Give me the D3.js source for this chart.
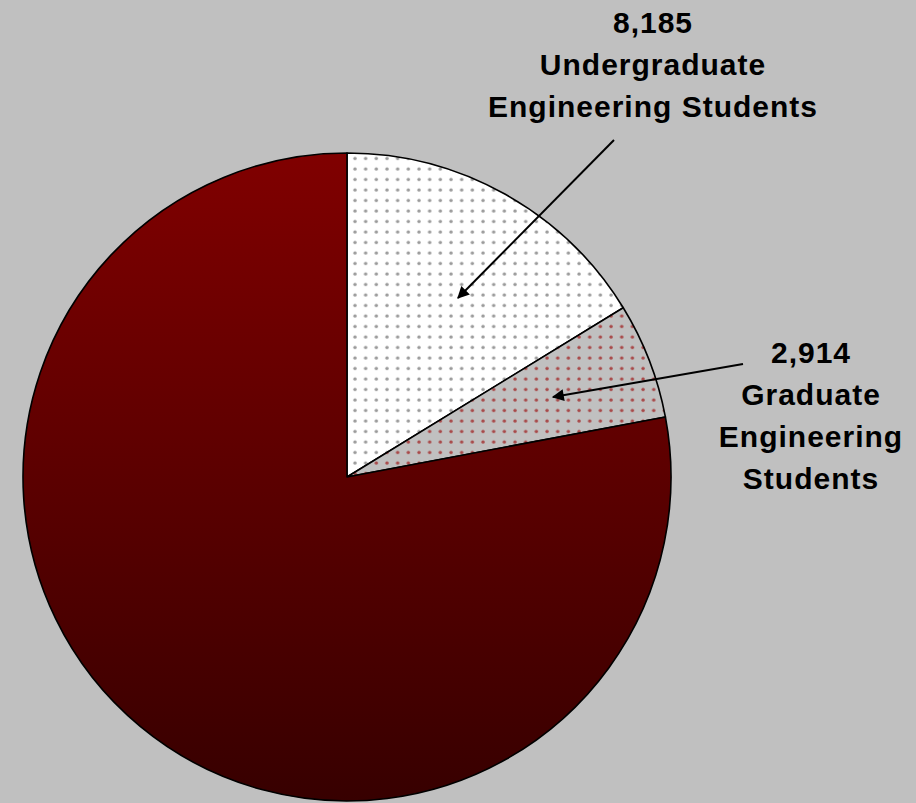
<!DOCTYPE html>
<html>
<head>
<meta charset="utf-8">
<script src="https://cdn.jsdelivr.net/npm/d3@7"></script>
<style>
  html, body { margin: 0; padding: 0; background: #c0c0c0; }
  svg { display: block; }
  text { font-family: Arial, "Liberation Sans", sans-serif; font-weight: bold; fill: #000; }
</style>
</head>
<body>
<svg id="chart" width="916" height="803"></svg>
<script>
// slice order goes clockwise from 12 o'clock
const categories = ["Undergraduate Engineering Students", "Graduate Engineering Students", "Other Students"];
const values = [8185, 2914, 39270];
const labelLines = [
  ["8,185", "Undergraduate", "Engineering Students"],
  ["2,914", "Graduate", "Engineering", "Students"],
  null
];

const width = 916, height = 803;
const cx = 347, cy = 477, radius = 324;

const svg = d3.select("#chart");
const defs = svg.append("defs");

// dotted fills
function dotPattern(id, bg, dot) {
  let p = defs.append("pattern")
    .attr("id", id)
    .attr("patternUnits", "userSpaceOnUse")
    .attr("width", 10.67)
    .attr("height", 10.5)
    .attr("x", 3)
    .attr("y", 2);
  p.append("rect").attr("width", 10.67).attr("height", 10.5).attr("fill", bg);
  p.append("circle").attr("cx", 5).attr("cy", 5).attr("r", 1.7).attr("fill", dot);
}
dotPattern("dotsWhite", "#ffffff", "#9a9a9a");
dotPattern("dotsRed", "#c0c0c0", "#a84848");

// gradient coords are in the pie group's local space (centre at 0,0)
let grad = defs.append("linearGradient")
  .attr("id", "maroon")
  .attr("gradientUnits", "userSpaceOnUse")
  .attr("x1", 0).attr("y1", -radius)
  .attr("x2", 0).attr("y2", radius);
grad.append("stop").attr("offset", "0%").attr("stop-color", "#800000");
grad.append("stop").attr("offset", "100%").attr("stop-color", "#370000");

const fills = ["url(#dotsWhite)", "url(#dotsRed)", "url(#maroon)"];

const pie = d3.pie().sort(null).value((d) => d);
const arc = d3.arc().innerRadius(0).outerRadius(radius);
const arcs = pie(values);

const g = svg.append("g").attr("transform", `translate(${cx},${cy})`);
g.selectAll("path")
  .data(arcs)
  .enter().append("path")
  .attr("d", arc)
  .attr("fill", (d, i) => fills[i])
  .attr("stroke", "#000")
  .attr("stroke-width", 1.6)
  .attr("stroke-linejoin", "round");

// arrowheads
defs.append("marker")
  .attr("id", "arrow")
  .attr("viewBox", "0 0 10 10")
  .attr("refX", 9).attr("refY", 5)
  .attr("markerWidth", 7).attr("markerHeight", 6)
  .attr("markerUnits", "strokeWidth")
  .attr("orient", "auto")
  .append("path")
  .attr("d", "M0,0 L10,5 L0,10 z")
  .attr("fill", "#000");

// callouts: label anchor, arrow start, arrow tip
const labelPos = [
  { x: 653, y: 33, start: [614, 140], tip: [458, 298] },
  { x: 811, y: 363, start: [743, 364], tip: [553, 397] }
];

arcs.forEach((a, i) => {
  if (!labelLines[i]) return;
  let lp = labelPos[i];
  svg.append("line")
    .attr("x1", lp.start[0]).attr("y1", lp.start[1])
    .attr("x2", lp.tip[0]).attr("y2", lp.tip[1])
    .attr("stroke", "#000")
    .attr("stroke-width", 2)
    .attr("marker-end", "url(#arrow)");

  let t = svg.append("text")
    .attr("text-anchor", "middle")
    .attr("font-size", 30)
    .attr("letter-spacing", 1);
  labelLines[i].forEach((line, j) => {
    t.append("tspan")
      .attr("x", lp.x)
      .attr("y", lp.y + j * 42)
      .text(line);
  });
});
</script>
</body>
</html>
